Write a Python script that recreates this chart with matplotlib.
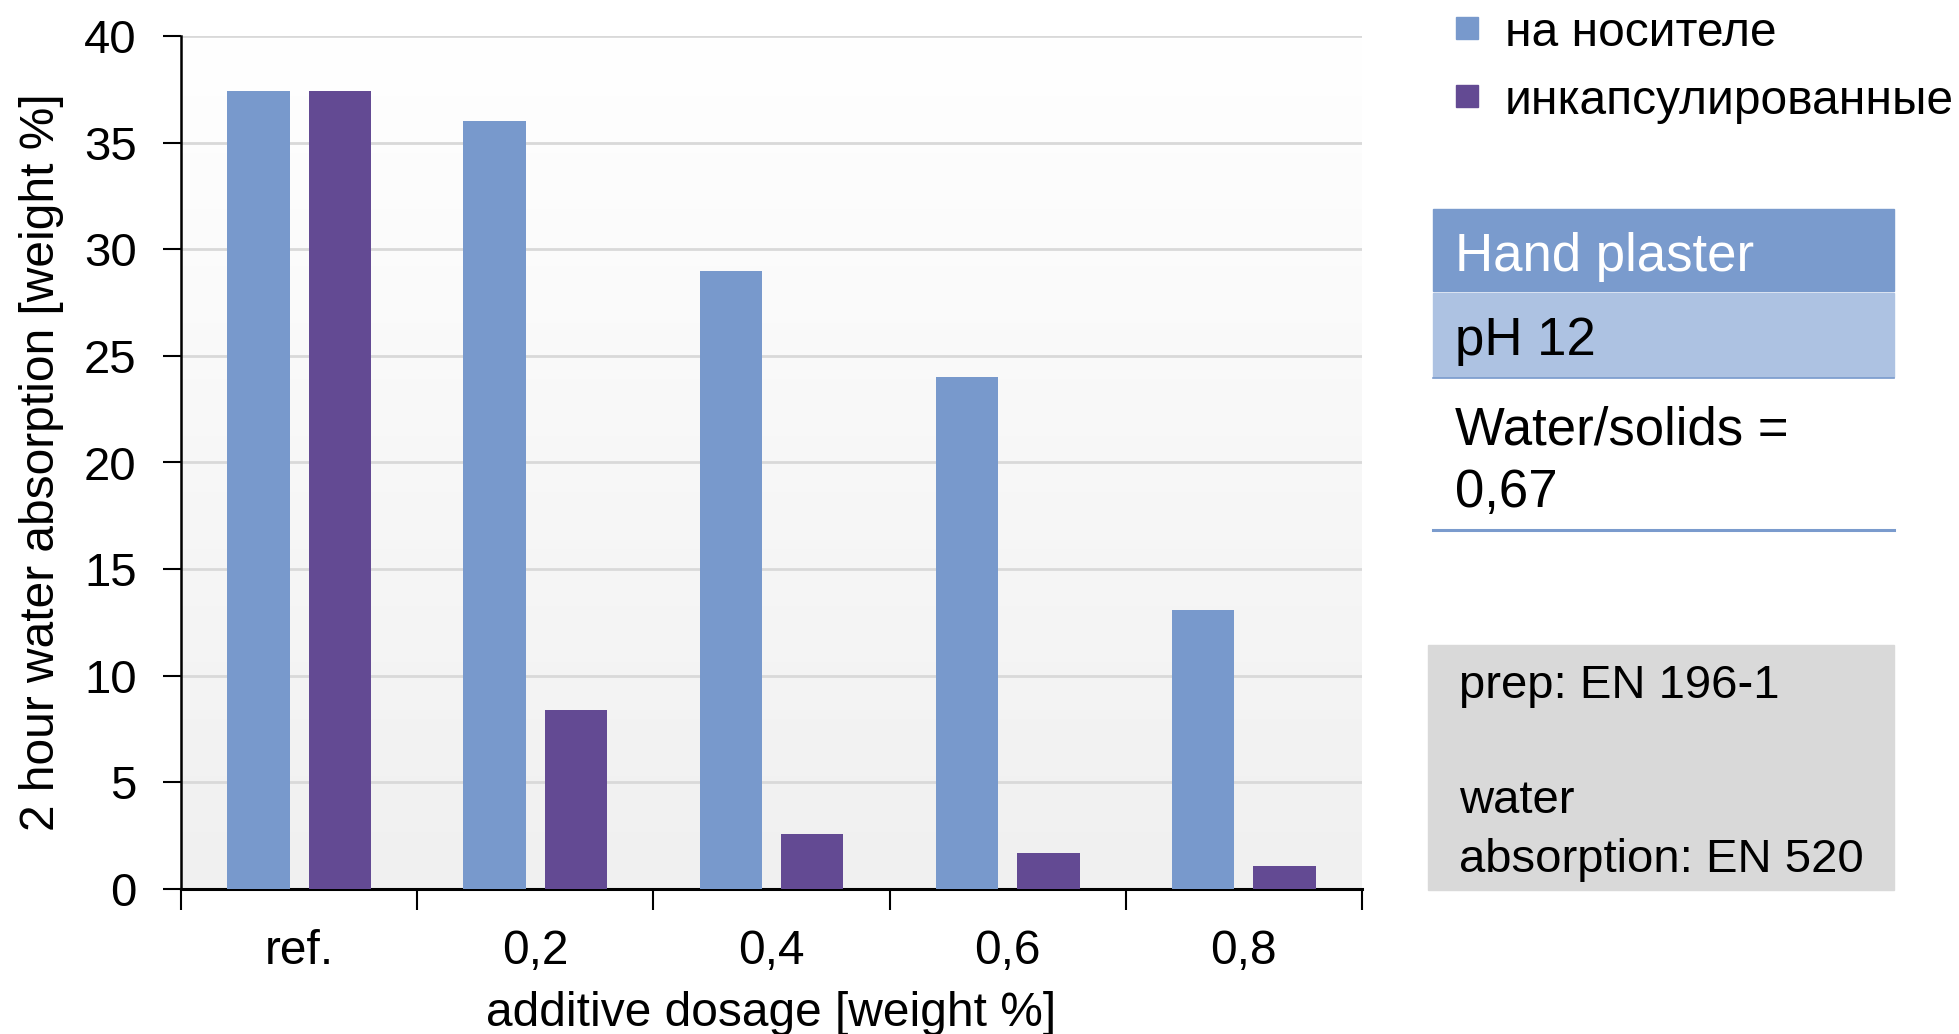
import numpy as np
import matplotlib
matplotlib.use("Agg")
import matplotlib.pyplot as plt
from matplotlib.patches import Rectangle
from matplotlib.lines import Line2D
from matplotlib.colors import LinearSegmentedColormap

categories = ["ref.", "0,2", "0,4", "0,6", "0,8"]
series_names = ["на носителе", "инкапсулированные"]
carrier = [37.4, 36.0, 29.0, 24.0, 13.1]
encapsulated = [37.4, 8.4, 2.6, 1.7, 1.1]
y_ticks = [0, 5, 10, 15, 20, 25, 30, 35, 40]

BLUE = "#7899cc"
PURPLE = "#634a93"
plt.rcParams['font.family'] = ['Liberation Sans', 'DejaVu Sans']

W, H = 1959, 1034
fig = plt.figure(figsize=(W / 100, H / 100), dpi=100)

def fx(px):
    return px / W

def fy(py):
    return 1 - py / H

ax_l, ax_r, ax_t, ax_b = 181, 1362, 36, 889
ax = fig.add_axes([fx(ax_l), fy(ax_b), fx(ax_r - ax_l), (ax_b - ax_t) / H])

# gradient background: white at top, light gray at bottom
grad = np.linspace(0, 1, 256).reshape(-1, 1)
cmap = LinearSegmentedColormap.from_list("bg", ["#ffffff", "#f0f0f0"])
ax.imshow(grad, cmap=cmap, aspect="auto", extent=[0, 1, 0, 1], origin="upper",
          transform=ax.transAxes, zorder=0)

x = np.arange(len(categories))
bw = 0.264
off = 0.172
ax.bar(x - off, carrier, bw, color=BLUE, zorder=3, label=series_names[0])
ax.bar(x + off, encapsulated, bw, color=PURPLE, zorder=3, label=series_names[1])

ax.set_xlim(-0.5, len(categories) - 0.5)
ax.set_ylim(0, 40)
ax.set_yticks(y_ticks)
ax.set_yticklabels([str(v) for v in y_ticks], fontsize=34)
ax.yaxis.grid(True, color="#d9d9d9", linewidth=2, zorder=1)
ax.set_axisbelow(True)

ax.set_xticks(x)
ax.set_xticklabels(categories, fontsize=34.5)
ax.set_xticks(np.arange(-0.5, len(categories)), minor=True)
ax.tick_params(axis="x", which="major", length=0, pad=29)
ax.tick_params(axis="x", which="minor", length=15, width=1.5, direction="out", color="black")
ax.tick_params(axis="y", length=13, width=1.5, direction="out", pad=19)

for s in ["top", "right"]:
    ax.spines[s].set_visible(False)
ax.spines["left"].set_linewidth(1.8)
ax.spines["bottom"].set_linewidth(2.2)

ax.set_xlabel("additive dosage [weight %]", fontsize=34.5, labelpad=12)
ax.set_ylabel("2 hour water absorption [weight %]", fontsize=34.5, labelpad=14)

# legend (manual)
leg_items = [(BLUE, series_names[0], 28, 33), (PURPLE, series_names[1], 96, 101)]
for col, name, sq, ycen in leg_items:
    fig.patches.append(Rectangle((fx(1456), fy(sq + 11)), fx(22), 22 / H,
                                 transform=fig.transFigure, color=col))
    fig.text(fx(1505), fy(ycen), name, fontsize=34.5, va="center", ha="left")

# table
tl, tr = 1433, 1894
fig.patches.append(Rectangle((fx(tl), fy(291)), fx(tr - tl), (291 - 209) / H,
                             transform=fig.transFigure, color="#7a9bcd"))
fig.patches.append(Rectangle((fx(tl), fy(377)), fx(tr - tl), (377 - 293) / H,
                             transform=fig.transFigure, color="#adc2e2"))
fig.add_artist(Line2D([fx(tl), fx(tr)], [fy(377.5), fy(377.5)],
                      transform=fig.transFigure, color="#7a9bcd", linewidth=1.2))
fig.add_artist(Line2D([fx(tl), fx(tr)], [fy(530), fy(530)],
                      transform=fig.transFigure, color="#7a9bcd", linewidth=2.2))
fig.text(fx(1455), fy(257), "Hand plaster", fontsize=38, color="white", va="center")
fig.text(fx(1455), fy(341), "pH 12", fontsize=38, color="black", va="center")
fig.text(fx(1455), fy(430), "Water/solids =", fontsize=38, color="black", va="center")
fig.text(fx(1455), fy(493), "0,67", fontsize=38, color="black", va="center")

# gray info box
fig.patches.append(Rectangle((fx(1428), fy(890)), fx(1894 - 1428), (890 - 645) / H,
                             transform=fig.transFigure, color="#d9d9d9"))
fig.text(fx(1459), fy(686), "prep: EN 196-1", fontsize=34, va="center")
fig.text(fx(1459), fy(801), "water", fontsize=34, va="center")
fig.text(fx(1459), fy(860), "absorption: EN 520", fontsize=34, va="center")

fig.savefig("out.png", dpi=100)
